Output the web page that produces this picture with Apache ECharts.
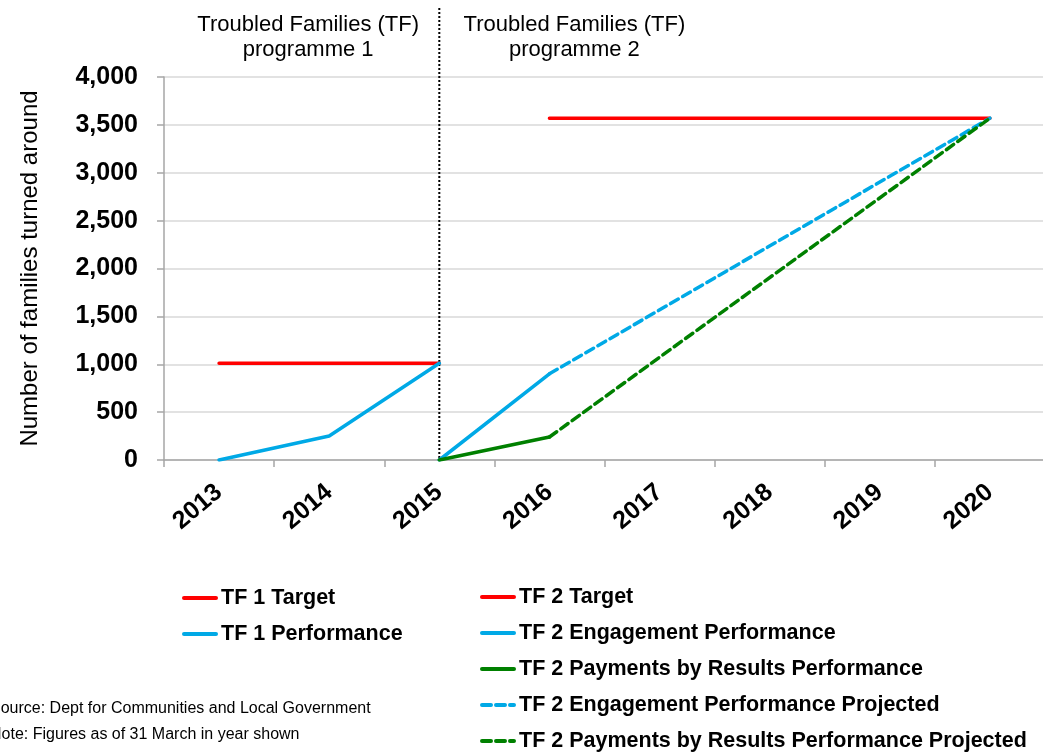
<!DOCTYPE html>
<html>
<head>
<meta charset="utf-8">
<script src="https://cdn.jsdelivr.net/npm/echarts@6/dist/echarts.min.js"></script>
<style>
  html, body { margin: 0; padding: 0; background: #fff; }
  #chart { width: 1043px; height: 753px; }
</style>
</head>
<body>
<div id="chart"></div>
<script>
// categories
const years = ["2013", "2014", "2015", "2016", "2017", "2018", "2019", "2020"];
// series values (null = no point that year)
const tf1Target = [1010, 1010, 1010, null, null, null, null, null];
const tf1Performance = [0, 250, 1010, null, null, null, null, null];
const tf2Target = [null, null, null, 3570, 3570, 3570, 3570, 3570];
const tf2Engagement = [null, null, 0, 900, null, null, null, null];
const tf2Pbr = [null, null, 0, 240, null, null, null, null];
const tf2EngagementProj = [null, null, null, 900, null, null, null, 3570];
const tf2PbrProj = [null, null, null, 240, null, null, null, 3570];
// y axis ticks
const yMin = 0;
const yMax = 4000;
const yStep = 500;

const FONT = "Arial, 'Liberation Sans', sans-serif";
const RED = "#ff0000";
const BLUE = "#00a9e6";
const GREEN = "#008000";

const myChart = echarts.init(document.getElementById("chart"));

function line(name, data, color, dashed) {
  return {
    name: name,
    type: "line",
    data: data,
    symbol: "none",
    showSymbol: false,
    connectNulls: true,
    animation: false,
    lineStyle: { color: color, width: 3.5, type: dashed ? [9, 5] : "solid", cap: "round" },
    itemStyle: { color: color },
  };
}

const legendBase = {
  orient: "vertical",
  height: 220,
  itemWidth: 32,
  itemHeight: 14,
  itemGap: 14,
  itemStyle: { opacity: 0 },
  lineStyle: { width: 4 },
  textStyle: { color: "#000", fontWeight: "bold", fontSize: 21.5, lineHeight: 21, fontFamily: FONT },
  selectedMode: false,
};

const options = {
  backgroundColor: "#fff",
  animation: false,
  textStyle: { fontFamily: FONT },
  grid: {
    left: 164,
    top: 77,
    width: 881,
    height: 383,
    containLabel: false,
    outerBoundsMode: "none",
  },
  xAxis: {
    type: "category",
    data: years,
    boundaryGap: true,
    axisLine: { lineStyle: { color: "#a6a6a6", width: 1.5 } },
    axisTick: { show: true, length: 7, lineStyle: { color: "#a6a6a6", width: 1.5 } },
    axisLabel: {
      rotate: 40,
      margin: 29,
      interval: 0,
      color: "#000",
      fontWeight: "bold",
      fontSize: 25,
      fontFamily: FONT,
    },
    splitLine: { show: false },
  },
  yAxis: {
    type: "value",
    min: yMin,
    max: yMax,
    interval: yStep,
    name: "Number of families turned around",
    nameLocation: "middle",
    nameGap: 122,
    nameTextStyle: { color: "#000", fontSize: 24, fontFamily: FONT },
    axisLine: { show: true, lineStyle: { color: "#a6a6a6", width: 1.5 } },
    axisTick: { show: true, length: 7, lineStyle: { color: "#a6a6a6", width: 1.5 } },
    axisLabel: {
      margin: 26,
      color: "#000",
      fontWeight: "bold",
      fontSize: 25,
      fontFamily: FONT,
      formatter: (v) => v.toLocaleString("en-US"),
    },
    splitLine: { lineStyle: { color: "#d9d9d9", width: 1.5 } },
  },
  legend: [
    Object.assign({}, legendBase, {
      data: ["TF 1 Target", "TF 1 Performance"],
      left: 177,
      top: 582,
    }),
    Object.assign({}, legendBase, {
      data: [
        "TF 2 Target",
        "TF 2 Engagement Performance",
        "TF 2 Payments by Results Performance",
        "TF 2 Engagement Performance Projected",
        "TF 2 Payments by Results Performance Projected",
      ],
      left: 475,
      top: 581,
    }),
  ],
  series: [
    line("TF 1 Target", tf1Target, RED, false),
    line("TF 1 Performance", tf1Performance, BLUE, false),
    line("TF 2 Target", tf2Target, RED, false),
    line("TF 2 Engagement Performance Projected", tf2EngagementProj, BLUE, true),
    line("TF 2 Payments by Results Performance Projected", tf2PbrProj, GREEN, true),
    line("TF 2 Engagement Performance", tf2Engagement, BLUE, false),
    line("TF 2 Payments by Results Performance", tf2Pbr, GREEN, false),
  ],
};
myChart.setOption(options);

// programme divider + labels, placed from the axes
const divX = myChart.convertToPixel({ xAxisIndex: 0 }, "2015");
const baseY = myChart.convertToPixel({ yAxisIndex: 0 }, 0);
const prog1X = myChart.convertToPixel({ xAxisIndex: 0 }, "2014") - 21;
const prog2X = myChart.convertToPixel({ xAxisIndex: 0 }, "2016") + 25;

const labelStyle = { fill: "#000", font: "22px " + FONT, align: "center", verticalAlign: "middle" };
myChart.setOption({
  graphic: [
    {
      type: "line",
      z: 0,
      shape: { x1: divX, y1: 8, x2: divX, y2: baseY },
      style: { stroke: "#000", lineWidth: 2, lineDash: [2, 2] },
    },
    { type: "text", x: prog1X, y: 25, style: Object.assign({ text: "Troubled Families (TF)" }, labelStyle) },
    { type: "text", x: prog1X, y: 50, style: Object.assign({ text: "programme 1" }, labelStyle) },
    { type: "text", x: prog2X, y: 25, style: Object.assign({ text: "Troubled Families (TF)" }, labelStyle) },
    { type: "text", x: prog2X, y: 50, style: Object.assign({ text: "programme 2" }, labelStyle) },
    {
      type: "text",
      x: -10,
      y: 709,
      style: { text: "Source: Dept for Communities and Local Government", fill: "#000", font: "16px " + FONT, verticalAlign: "middle" },
    },
    {
      type: "text",
      x: -10,
      y: 735,
      style: { text: "Note: Figures as of 31 March in year shown", fill: "#000", font: "16px " + FONT, verticalAlign: "middle" },
    },
  ],
});

window.addEventListener("resize", function () {
  myChart.resize();
});
</script>
</body>
</html>
